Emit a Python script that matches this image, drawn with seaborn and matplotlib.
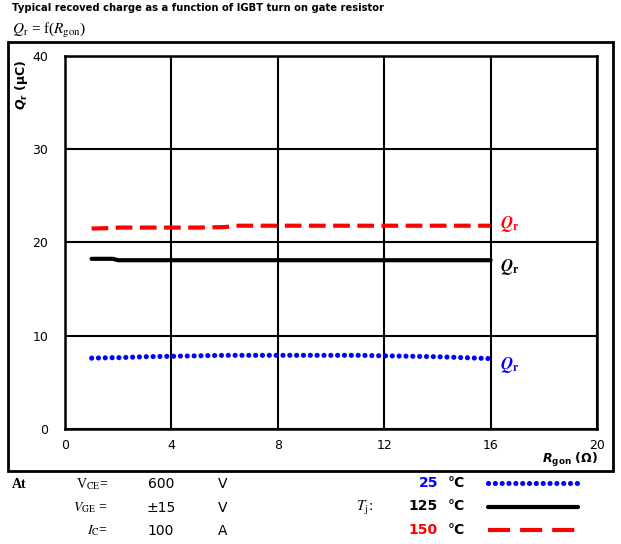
import matplotlib
matplotlib.use("Agg")
import matplotlib.pyplot as plt
from matplotlib.patches import Rectangle
from matplotlib.lines import Line2D
import seaborn as sns
import pandas as pd

sns.set_theme(style="white")
plt.rcParams["font.family"] = ["DejaVu Sans"]
plt.rcParams["mathtext.fontset"] = "stix"
plt.rcParams["text.color"] = "black"
plt.rcParams["xtick.color"] = "black"
plt.rcParams["ytick.color"] = "black"

# Gate resistance (Ohm) and recovered charge (uC) per junction temperature
r_gon = [1, 1.8, 2, 3, 4, 5, 6, 6.5, 7, 8, 9, 10, 11, 12, 13, 14, 15, 16]
qr_25 = [7.6, 7.65, 7.65, 7.75, 7.8, 7.85, 7.9, 7.9, 7.9, 7.9, 7.9, 7.9, 7.9, 7.85, 7.8, 7.75, 7.65, 7.55]
qr_125 = [18.25, 18.25, 18.1, 18.1, 18.1, 18.1, 18.1, 18.1, 18.1, 18.1, 18.1, 18.1, 18.1, 18.1, 18.1, 18.1, 18.1, 18.1]
qr_150 = [21.5, 21.55, 21.6, 21.6, 21.6, 21.6, 21.65, 21.8, 21.8, 21.8, 21.8, 21.8, 21.8, 21.8, 21.8, 21.8, 21.8, 21.8]

x_ticks = [0, 4, 8, 12, 16, 20]
y_ticks = [0, 10, 20, 30, 40]

temps = ["25", "125", "150"]
temp_colors = ["#0000ff", "black", "#ff0000"]

cond_names = [r"V$_{\mathrm{CE}}$=", r"$V_{\mathrm{GE}}$ =", r"$I_{\mathrm{C}}$="]
cond_values = ["600", "\u00b115", "100"]
cond_units = ["V", "V", "A"]

W, H = 621, 544
fig = plt.figure(figsize=(W / 100, H / 100), dpi=100)

# outer frame around the chart region
fig.patches.append(Rectangle((8 / W, 1 - 471 / H), (613 - 8) / W, (471 - 42) / H,
                             transform=fig.transFigure, fill=False, lw=2.0,
                             edgecolor="black", zorder=0))

ax = fig.add_axes([65 / W, 1 - 429 / H, (597 - 65) / W, (429 - 56) / H])

df = pd.DataFrame({"R": r_gon, "q25": qr_25, "q125": qr_125, "q150": qr_150})

dot_style = dict(lw=3.7, dashes=(0.01, 1.32), dash_capstyle="round")
dash_style = dict(lw=3.0, dashes=(4.0, 1.8), dash_capstyle="butt")

sns.lineplot(data=df, x="R", y="q150", ax=ax, color="#ff0000", lw=3.0, zorder=3)
l150 = ax.lines[-1]
l150.set_dashes(dash_style["dashes"])
l150.set_dash_capstyle("butt")

sns.lineplot(data=df, x="R", y="q125", ax=ax, color="black", lw=3.0, zorder=3)

sns.lineplot(data=df, x="R", y="q25", ax=ax, color="#0000ff", lw=dot_style["lw"], zorder=3)
l25 = ax.lines[-1]
l25.set_dashes(dot_style["dashes"])
l25.set_dash_capstyle("round")

ax.set_xlim(0, 20)
ax.set_ylim(0, 40)
ax.set_xticks(x_ticks)
ax.set_yticks(y_ticks)
ax.set_xticklabels([str(v) for v in x_ticks], fontsize=9)
ax.set_yticklabels([str(v) for v in y_ticks], fontsize=9)
ax.tick_params(axis="both", length=0, colors="black")
ax.tick_params(axis="y", pad=12)
ax.tick_params(axis="x", pad=7)
ax.grid(True, color="black", lw=1.5)
for s in ax.spines.values():
    s.set_color("black")
    s.set_linewidth(1.8)
ax.set_xlabel("")
ax.set_ylabel("")

# curve labels
for yv, c in zip([22.0, 17.4, 6.9], ["#ff0000", "black", "#0000ff"]):
    ax.text(16.35, yv, r"$\mathbfit{Q}_{\mathbf{r}}$", color=c, fontsize=12,
            ha="left", va="center", math_fontfamily="stix")

# axis titles
fig.text(22 / W, 1 - 85 / H, r"$\mathbfit{Q}_{\mathbf{r}}$" + " (\u00b5C)", rotation=90,
         fontsize=9, fontweight="bold", ha="center", va="center",
         math_fontfamily="dejavusans")
fig.text(598 / W, 1 - 460 / H, r"$\mathbfit{R}_{\mathbf{gon}}$" + " (\u03a9)",
         fontsize=9, fontweight="bold", ha="right", va="center",
         math_fontfamily="dejavusans")

# header
fig.text(12 / W, 1 - 8 / H, "Typical recoved charge as a function of IGBT turn on gate resistor",
         fontsize=7.2, fontweight="bold", ha="left", va="center")
fig.text(12 / W, 1 - 31 / H, r"$Q_{\mathrm{r}}$ = f($R_{\mathrm{gon}}$)", fontsize=11,
         family="Liberation Serif", ha="left", va="center")

# test conditions footer
fig.text(12 / W, 1 - 484 / H, "At", fontsize=10, fontweight="bold",
         family="Liberation Serif", ha="left", va="center")
for i, (n, v, u) in enumerate(zip(cond_names, cond_values, cond_units)):
    yy = 1 - (484 + 23.5 * i) / H
    fig.text(108 / W, yy, n, fontsize=10, family="Liberation Serif", ha="right", va="center")
    fig.text(161 / W, yy, v, fontsize=10, ha="center", va="center")
    fig.text(218 / W, yy, u, fontsize=10, ha="left", va="center")

fig.text(365 / W, 1 - 508 / H, r"$T_{\mathrm{j}}$:", fontsize=11, family="Liberation Serif",
         ha="center", va="center")

leg_styles = [dot_style,
              dict(lw=3.0),
              dict(lw=3.0, dashes=(5.3, 2.4), dash_capstyle="butt")]
for i, (t, c, st) in enumerate(zip(temps, temp_colors, leg_styles)):
    yy = 1 - (483 + 23.5 * i) / H
    fig.text(438 / W, yy, t, color=c, fontsize=10, fontweight="bold", ha="right", va="center")
    fig.text(448 / W, yy, "\u00b0C", color="black", fontsize=10, fontweight="bold",
             ha="left", va="center")
    ln = Line2D([488 / W, 578 / W], [yy, yy], transform=fig.transFigure, color=c, **st)
    fig.lines.append(ln)

fig.savefig("out.png", dpi=100)
